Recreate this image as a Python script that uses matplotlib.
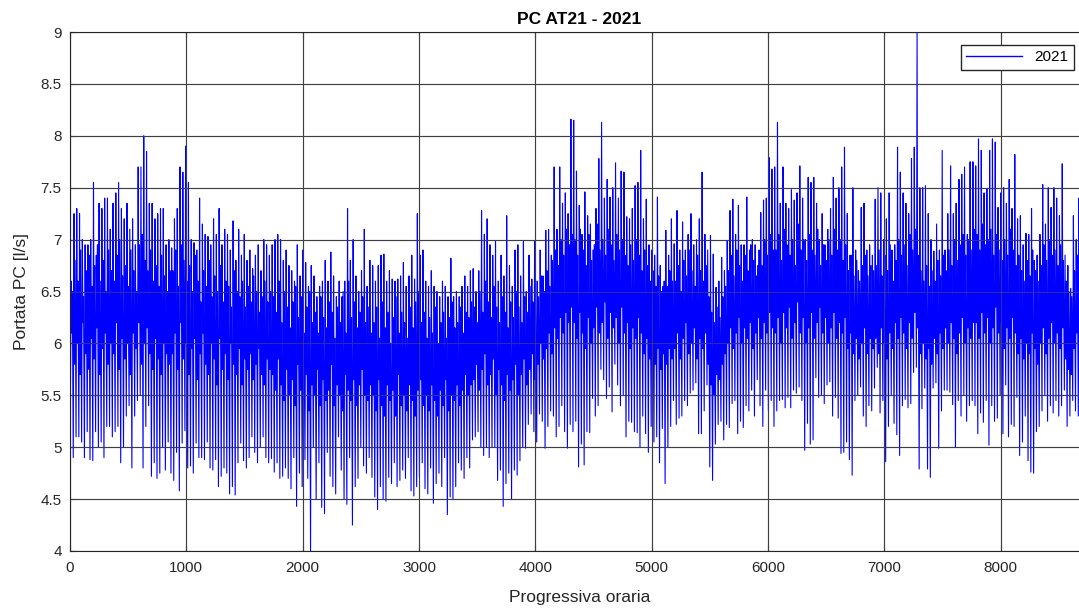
import numpy as np
import matplotlib
matplotlib.use("Agg")
import matplotlib.pyplot as plt
from matplotlib.ticker import FuncFormatter, MultipleLocator

plt.rcParams["font.family"] = ["Liberation Sans", "DejaVu Sans"]

# hourly flow, in ~36-day chunks:
# night trough, morning peak, midday dip, evening peak
peaks_0 = [6.6, 7.25, 7.3, 7.25, 7.0, 6.95, 6.95, 7.0, 7.55, 6.85, 7.35, 7.3, 7.4, 7.4, 7.1, 7.35, 7.45, 7.55,
           7.3, 7.2, 7.35, 7.1, 7.2, 6.95, 7.7, 7.7, 8.0, 7.85, 7.35, 7.35, 7.2, 7.25, 7.3, 7.3, 6.95, 7.0]
troughs_0 = [5.6, 4.9, 5.1, 5.1, 5.05, 4.9, 5.15, 4.88, 4.87, 5.15, 5.0, 5.05, 4.9, 5.2, 5.2, 5.1, 5.15, 5.2,
             4.85, 5.0, 5.3, 5.4, 4.8, 5.3, 5.45, 5.5, 4.8, 5.2, 5.4, 4.72, 4.85, 4.7, 4.75, 5.0, 4.78, 5.05]
dips_0 = [6.1, 5.8, 6.0, 5.7, 6.2, 5.9, 5.75, 6.05, 5.85, 6.15, 5.7, 5.95, 6.1, 5.8, 6.0, 5.9, 6.2, 5.75,
          6.05, 5.85, 6.0, 5.7, 6.1, 5.95, 6.2, 5.8, 6.0, 6.15, 5.9, 5.75, 6.05, 5.85, 5.7, 6.0, 5.9, 5.8]
humps_0 = [6.5, 6.8, 6.6, 6.9, 6.45, 6.7, 6.85, 6.55, 6.75, 6.95, 6.6, 6.8, 6.5, 6.9, 6.7, 6.6, 6.85, 7.0,
           6.65, 6.75, 6.55, 6.9, 6.7, 6.5, 6.95, 7.05, 6.8, 6.7, 6.9, 6.6, 6.75, 6.55, 6.85, 6.65, 6.5, 6.7]
peaks_1 = [6.92, 7.2, 7.3, 7.7, 7.65, 7.9, 7.55, 7.0, 6.97, 6.9, 7.4, 7.15, 7.05, 7.03, 6.95, 7.2, 7.05, 7.3,
           6.95, 7.1, 7.05, 6.9, 7.18, 6.8, 7.1, 6.85, 7.05, 6.8, 6.9, 6.72, 6.85, 6.95, 6.7, 7.0, 6.95, 6.85]
troughs_1 = [4.75, 4.68, 4.95, 4.58, 5.04, 5.16, 4.8, 4.82, 4.75, 5.04, 4.9, 4.9, 4.88, 5.05, 4.8, 4.78, 4.88, 4.62,
             4.72, 4.8, 4.75, 4.55, 4.62, 4.54, 4.85, 5.04, 4.87, 4.8, 4.9, 5.1, 4.95, 4.85, 5.0, 5.1, 4.9, 4.85]
dips_1 = [5.9, 6.1, 5.75, 6.2, 5.85, 6.0, 5.7, 5.95, 6.05, 5.65, 5.9, 6.1, 5.8, 5.7, 6.0, 5.85, 5.6, 6.05,
          5.75, 5.9, 5.65, 6.0, 5.8, 5.7, 5.95, 5.6, 5.85, 5.75, 5.9, 5.65, 5.8, 5.95, 5.7, 5.6, 5.85, 5.75]
humps_1 = [6.7, 6.9, 6.55, 6.95, 6.8, 6.6, 6.75, 6.5, 6.85, 6.6, 6.4, 6.7, 6.55, 6.8, 6.45, 6.65, 6.5, 6.75,
           6.4, 6.6, 6.55, 6.35, 6.7, 6.5, 6.45, 6.6, 6.35, 6.55, 6.4, 6.65, 6.5, 6.3, 6.45, 6.6, 6.4, 6.5]
peaks_2 = [6.95, 7.0, 7.05, 7.0, 6.8, 6.9, 6.75, 6.7, 6.6, 6.95, 6.65, 6.9, 6.78, 6.55, 6.75, 6.65, 6.45, 6.55,
           6.6, 6.8, 6.6, 6.88, 6.65, 6.45, 6.6, 6.45, 6.6, 7.3, 6.8, 7.0, 6.65, 6.5, 6.7, 7.1, 6.55, 6.8]
troughs_2 = [4.89, 4.76, 4.85, 4.7, 4.72, 4.8, 4.7, 4.6, 4.9, 4.43, 4.75, 4.62, 4.88, 4.7, 4.0, 5.0, 4.5, 4.85,
             4.42, 4.36, 4.95, 4.72, 4.62, 4.55, 5.1, 4.78, 4.5, 4.45, 4.9, 4.25, 4.62, 4.7, 5.0, 4.82, 4.75, 4.9]
dips_2 = [5.7, 5.55, 5.85, 5.6, 5.45, 5.75, 5.5, 5.65, 5.4, 5.8, 5.55, 5.45, 5.7, 5.35, 5.6, 5.5, 5.75, 5.4,
          5.65, 5.45, 5.55, 5.8, 5.4, 5.6, 5.5, 5.35, 5.7, 5.55, 5.45, 5.65, 5.4, 5.6, 5.75, 5.5, 5.45, 5.6]
humps_2 = [6.45, 6.3, 6.6, 6.2, 6.5, 6.35, 6.15, 6.4, 6.55, 6.25, 6.45, 6.1, 6.35, 6.5, 6.2, 6.3, 6.1, 6.45,
           6.25, 6.15, 6.4, 6.3, 6.05, 6.35, 6.2, 6.5, 6.1, 6.6, 6.25, 6.4, 6.15, 6.3, 6.45, 6.2, 6.35, 6.1]
peaks_3 = [6.75, 6.6, 6.75, 6.85, 6.86, 6.6, 6.7, 6.62, 6.6, 6.62, 6.65, 6.78, 6.55, 6.65, 6.85, 6.62, 7.25, 6.85,
           6.9, 6.6, 6.55, 6.7, 6.55, 6.5, 6.45, 6.6, 6.55, 6.45, 6.82, 6.45, 6.5, 6.45, 6.55, 6.65, 6.55, 6.7]
troughs_3 = [4.71, 4.52, 4.4, 4.62, 4.5, 4.48, 4.71, 4.65, 4.85, 4.62, 4.68, 4.78, 4.7, 4.9, 4.58, 4.53, 4.62, 4.71,
             4.85, 4.6, 4.55, 4.8, 4.46, 4.65, 4.75, 4.62, 4.9, 4.35, 4.52, 4.5, 4.62, 4.85, 4.78, 4.7, 4.9, 4.8]
dips_3 = [5.5, 5.35, 5.65, 5.4, 5.3, 5.6, 5.45, 5.55, 5.3, 5.7, 5.4, 5.5, 5.35, 5.6, 5.45, 5.3, 5.55, 5.65,
          5.4, 5.5, 5.35, 5.6, 5.45, 5.3, 5.55, 5.4, 5.65, 5.35, 5.5, 5.45, 5.6, 5.4, 5.55, 5.7, 5.5, 5.6]
humps_3 = [6.2, 6.35, 6.05, 6.4, 6.15, 6.3, 6.0, 6.25, 6.45, 6.1, 6.3, 6.2, 6.05, 6.35, 6.15, 6.4, 6.5, 6.2,
           6.3, 6.05, 6.25, 6.1, 6.35, 6.0, 6.2, 6.3, 6.05, 6.25, 6.4, 6.15, 6.2, 6.35, 6.1, 6.3, 6.25, 6.4]
peaks_4 = [6.72, 6.5, 6.7, 7.28, 7.05, 7.2, 6.95, 6.85, 6.98, 6.6, 6.85, 6.65, 7.23, 6.75, 6.55, 6.9, 6.95, 6.65,
           6.98, 6.5, 6.85, 6.62, 6.98, 6.6, 6.9, 6.65, 7.09, 7.1, 6.85, 7.7, 7.1, 7.7, 7.35, 7.45, 7.25, 8.16]
troughs_4 = [5.07, 5.1, 5.15, 5.0, 4.92, 5.0, 4.9, 5.0, 5.0, 4.68, 4.78, 4.43, 4.65, 4.75, 4.5, 4.78, 4.73, 4.87,
             5.0, 4.99, 5.22, 5.32, 5.15, 5.05, 5.32, 5.25, 4.99, 5.2, 5.35, 5.3, 5.1, 5.2, 5.4, 5.15, 4.99, 5.22]
dips_4 = [5.65, 5.8, 5.55, 5.75, 5.9, 5.6, 5.7, 5.85, 5.5, 5.75, 5.6, 5.45, 5.7, 5.55, 5.65, 5.8, 5.5, 5.7,
          5.85, 5.6, 5.75, 5.9, 5.65, 5.8, 6.0, 5.85, 5.95, 6.1, 5.9, 6.15, 6.05, 6.25, 6.1, 6.3, 6.2, 6.35]
humps_4 = [6.35, 6.2, 6.5, 6.3, 6.6, 6.4, 6.25, 6.55, 6.35, 6.2, 6.45, 6.3, 6.15, 6.4, 6.25, 6.5, 6.35, 6.2,
           6.45, 6.3, 6.55, 6.4, 6.6, 6.45, 6.65, 6.5, 6.7, 6.55, 6.8, 6.9, 6.75, 7.0, 6.85, 7.1, 6.95, 7.05]
peaks_5 = [8.15, 7.66, 7.33, 7.05, 7.46, 7.23, 7.15, 6.9, 7.3, 7.78, 8.13, 7.4, 7.58, 7.41, 7.5, 7.74, 7.4, 7.66,
           7.65, 7.22, 7.2, 7.3, 7.52, 7.55, 7.86, 7.2, 7.39, 6.95, 6.9, 6.85, 7.41, 6.75, 6.55, 7.09, 6.85, 7.2]
troughs_5 = [5.15, 5.25, 4.81, 5.03, 4.83, 5.15, 5.14, 5.47, 5.3, 5.4, 5.75, 5.65, 5.47, 5.58, 5.34, 5.8, 5.6, 5.4,
             5.5, 5.1, 5.25, 5.24, 5.15, 5.14, 5.0, 5.3, 5.13, 4.95, 5.2, 5.05, 5.1, 4.85, 5.18, 4.65, 5.0, 5.2]
dips_5 = [6.2, 6.05, 6.3, 6.1, 5.95, 6.25, 6.0, 6.15, 6.35, 6.1, 6.2, 6.4, 6.05, 6.3, 6.15, 6.25, 6.0, 6.35,
          6.1, 6.2, 5.95, 6.15, 6.05, 6.25, 6.1, 5.9, 6.05, 5.85, 6.0, 5.8, 5.95, 5.75, 5.9, 5.8, 5.95, 5.85]
humps_5 = [7.0, 6.85, 7.1, 6.9, 6.75, 7.05, 6.8, 6.95, 7.15, 6.9, 7.0, 6.85, 7.1, 6.95, 6.8, 7.05, 6.9, 7.0,
           6.85, 6.75, 6.95, 6.8, 7.0, 6.85, 6.7, 6.9, 6.75, 6.6, 6.7, 6.55, 6.65, 6.5, 6.6, 6.55, 6.7, 6.6]
peaks_6 = [6.96, 7.28, 6.9, 7.17, 6.9, 7.05, 7.25, 6.95, 7.0, 7.2, 7.65, 7.05, 6.9, 7.04, 6.86, 6.54, 6.6, 6.83,
           6.7, 6.99, 7.28, 7.39, 7.05, 7.33, 6.95, 6.95, 7.41, 6.9, 7.0, 6.95, 6.75, 7.26, 7.38, 7.4, 7.79, 7.68]
troughs_6 = [5.45, 5.22, 5.28, 5.3, 5.45, 5.4, 5.52, 5.55, 5.62, 5.13, 5.13, 5.35, 5.6, 4.81, 4.68, 5.03, 5.22, 5.25,
             5.07, 5.22, 5.19, 5.42, 5.45, 5.13, 5.25, 5.19, 5.4, 5.35, 5.55, 5.3, 5.65, 5.4, 5.2, 5.55, 5.35, 5.45]
dips_6 = [5.95, 6.1, 5.85, 6.05, 6.2, 5.9, 6.0, 6.15, 5.85, 6.05, 5.95, 6.1, 5.8, 5.6, 5.5, 5.7, 5.65, 5.8,
          5.9, 6.0, 6.15, 5.95, 6.1, 6.25, 6.0, 6.15, 6.05, 6.2, 5.95, 6.1, 6.25, 6.05, 6.2, 6.1, 6.3, 6.15]
humps_6 = [6.6, 6.75, 6.5, 6.8, 6.65, 6.9, 6.7, 6.55, 6.85, 6.7, 6.6, 6.75, 6.45, 6.3, 6.2, 6.35, 6.25, 6.45,
           6.55, 6.7, 6.85, 6.65, 6.9, 6.75, 6.6, 6.85, 6.7, 6.95, 6.8, 6.65, 6.9, 6.75, 7.0, 6.85, 7.05, 6.9]
peaks_7 = [7.7, 8.13, 7.35, 7.7, 7.35, 7.3, 7.48, 7.38, 7.45, 7.71, 7.4, 7.0, 7.6, 7.55, 7.6, 7.35, 7.0, 7.25,
           6.95, 7.1, 7.3, 7.6, 7.4, 7.5, 7.7, 7.89, 7.25, 6.85, 7.5, 6.9, 6.7, 7.31, 7.35, 6.9, 6.95, 6.85]
troughs_7 = [5.2, 5.35, 5.45, 5.46, 5.38, 5.48, 5.38, 5.55, 5.52, 5.58, 5.45, 4.97, 5.23, 5.03, 5.07, 5.67, 5.48, 5.5,
             5.42, 5.6, 5.63, 5.3, 5.48, 5.28, 4.94, 4.95, 5.05, 4.88, 4.73, 5.45, 5.5, 5.58, 5.3, 5.2, 5.4, 5.35]
dips_7 = [6.1, 6.25, 6.0, 6.3, 6.15, 6.35, 6.05, 6.2, 6.4, 6.1, 6.25, 6.0, 6.15, 6.3, 6.05, 6.2, 6.35, 6.1,
          6.25, 6.0, 6.15, 6.3, 6.05, 6.2, 6.1, 6.25, 5.95, 6.1, 5.9, 6.05, 5.85, 6.0, 6.15, 5.9, 6.05, 5.95]
humps_7 = [6.9, 7.05, 6.8, 7.1, 6.95, 6.85, 7.0, 6.75, 7.15, 6.9, 7.0, 6.8, 7.05, 6.9, 6.85, 7.1, 6.75, 6.95,
           6.8, 7.0, 6.85, 7.1, 6.9, 7.0, 6.8, 6.95, 6.7, 6.85, 6.65, 6.8, 6.6, 6.75, 6.85, 6.65, 6.75, 6.7]
peaks_8 = [7.39, 7.5, 7.45, 7.0, 7.2, 7.45, 6.9, 6.95, 7.89, 7.65, 7.45, 7.35, 7.25, 7.78, 7.89, 9.0, 7.5, 7.5,
           7.52, 7.25, 7.0, 6.89, 7.15, 6.9, 7.86, 6.9, 7.25, 7.71, 7.25, 7.35, 7.58, 7.63, 7.7, 7.05, 7.75, 7.75]
troughs_8 = [5.57, 5.77, 5.33, 5.45, 4.86, 5.2, 5.5, 5.23, 5.12, 4.92, 5.4, 5.46, 5.38, 5.42, 5.72, 5.77, 4.79, 5.37,
             5.57, 4.79, 4.71, 5.57, 5.62, 4.99, 5.35, 5.55, 5.55, 5.53, 5.41, 5.0, 5.45, 5.3, 5.5, 5.25, 5.4, 5.45]
dips_8 = [6.05, 5.9, 6.15, 6.0, 5.85, 6.1, 5.95, 6.2, 6.05, 6.25, 6.1, 5.95, 6.2, 6.05, 6.3, 6.15, 5.9, 6.0,
          5.85, 5.95, 5.8, 6.05, 5.9, 6.1, 5.95, 6.15, 6.0, 6.2, 6.05, 5.9, 6.1, 6.25, 6.0, 6.15, 6.05, 6.2]
humps_8 = [6.75, 6.9, 6.65, 6.85, 6.7, 6.95, 6.6, 6.8, 7.0, 6.85, 6.95, 6.75, 7.05, 6.9, 7.1, 6.85, 6.7, 6.6,
           6.75, 6.55, 6.7, 6.6, 6.8, 6.65, 6.85, 6.7, 6.9, 6.75, 7.0, 6.8, 6.95, 7.05, 6.85, 7.0, 6.9, 7.1]
peaks_9 = [7.71, 7.97, 7.86, 7.45, 7.49, 7.86, 7.97, 7.94, 7.31, 7.45, 7.5, 7.35, 7.58, 7.3, 7.82, 7.2, 7.23, 6.95,
           7.06, 7.05, 7.3, 6.8, 6.85, 7.05, 7.53, 7.15, 7.5, 7.31, 7.5, 7.4, 7.23, 7.73, 6.85, 6.75, 6.53, 7.23,
           7.0, 7.4, 7.7, 7.6, 7.45]
troughs_9 = [5.4, 5.13, 5.33, 5.24, 5.45, 5.02, 5.4, 5.25, 5.28, 5.5, 5.13, 5.6, 5.1, 5.22, 5.2, 5.48, 4.92, 5.05,
             5.3, 4.87, 4.76, 4.75, 5.15, 5.2, 5.35, 5.5, 5.25, 5.4, 5.33, 5.45, 5.3, 5.4, 5.55, 5.2, 5.3, 5.45,
             5.35, 5.3, 5.5, 5.28, 5.4]
dips_9 = [6.2, 6.05, 6.3, 6.1, 6.25, 6.0, 6.15, 6.35, 6.1, 6.2, 5.95, 6.15, 6.05, 6.25, 6.1, 5.9, 6.05, 5.85,
          6.0, 5.9, 6.1, 5.95, 5.8, 6.0, 6.15, 5.9, 6.05, 6.2, 6.0, 6.1, 5.95, 6.15, 5.85, 5.75, 5.7, 5.95,
          6.1, 5.9, 6.2, 6.05, 6.15]
humps_9 = [7.05, 6.9, 7.15, 6.95, 7.0, 7.1, 6.85, 7.05, 6.9, 6.8, 7.0, 6.85, 7.1, 6.9, 6.75, 6.85, 6.7, 6.6,
           6.8, 6.65, 6.9, 6.7, 6.6, 6.75, 6.95, 6.8, 7.0, 6.85, 6.9, 6.75, 6.95, 6.8, 6.6, 6.5, 6.45, 6.7,
           6.85, 6.95, 7.1, 6.9, 7.0]

peaks = peaks_0 + peaks_1 + peaks_2 + peaks_3 + peaks_4 + peaks_5 + peaks_6 + peaks_7 + peaks_8 + peaks_9
troughs = troughs_0 + troughs_1 + troughs_2 + troughs_3 + troughs_4 + troughs_5 + troughs_6 + troughs_7 + troughs_8 + troughs_9
dips = dips_0 + dips_1 + dips_2 + dips_3 + dips_4 + dips_5 + dips_6 + dips_7 + dips_8 + dips_9
humps = humps_0 + humps_1 + humps_2 + humps_3 + humps_4 + humps_5 + humps_6 + humps_7 + humps_8 + humps_9

# hour of the day of each reading
day_hours = [4, 10, 15, 20]

days = np.arange(len(peaks))
hours = (days[:, None] * 24 + np.array(day_hours)[None, :]).ravel()
flow = np.column_stack([troughs, peaks, dips, humps]).ravel()

fig = plt.figure(figsize=(10.79, 6.08), dpi=100)
ax = fig.add_axes([70 / 1079, 57 / 608, 1019 / 1079, 519 / 608])

ax.plot(hours, flow, color="#0000ff", linewidth=0.8, label="2021", zorder=2)

ax.set_xlim(0, 8760)
ax.set_ylim(4, 9)
ax.xaxis.set_major_locator(MultipleLocator(1000))
ax.yaxis.set_major_locator(MultipleLocator(0.5))
ax.yaxis.set_major_formatter(FuncFormatter(lambda v, p: f"{v:g}"))

# dark grid under the data, plus a see-through copy on top (MATLAB look)
ax.set_axisbelow(True)
ax.grid(True, color="#262626", linewidth=0.8)
for yv in ax.get_yticks():
    ax.axhline(yv, color="#595959", linewidth=0.8, alpha=0.5, zorder=3)
for xv in ax.get_xticks():
    ax.axvline(xv, color="#595959", linewidth=0.8, alpha=0.5, zorder=3)

for side in ["left", "bottom", "top", "right"]:
    ax.spines[side].set_color("#262626")
    ax.spines[side].set_linewidth(0.8)
    ax.spines[side].set_zorder(4)
ax.tick_params(direction="in", length=4, colors="#262626", labelsize=11, top=True, right=True)
ax.tick_params(axis="x", pad=7)
ax.tick_params(axis="y", pad=6)

ax.set_xlabel("Progressiva oraria", fontsize=12.5, color="#262626", labelpad=11)
ax.set_ylabel("Portata PC [l/s]", fontsize=12.5, color="#262626", labelpad=8)
ax.set_title("PC AT21 - 2021", fontsize=12.5, fontweight="bold", pad=6)

leg = ax.legend(loc="upper right", bbox_to_anchor=(1074 / 1079, 1 - 45 / 608), bbox_transform=fig.transFigure,
                fancybox=False, edgecolor="#262626", framealpha=1, borderaxespad=0, fontsize=11,
                handlelength=3.7, borderpad=0.35)
leg.get_lines()[0].set_linewidth(1.0)
leg.set_zorder(5)

fig.savefig("out.png", dpi=100)
